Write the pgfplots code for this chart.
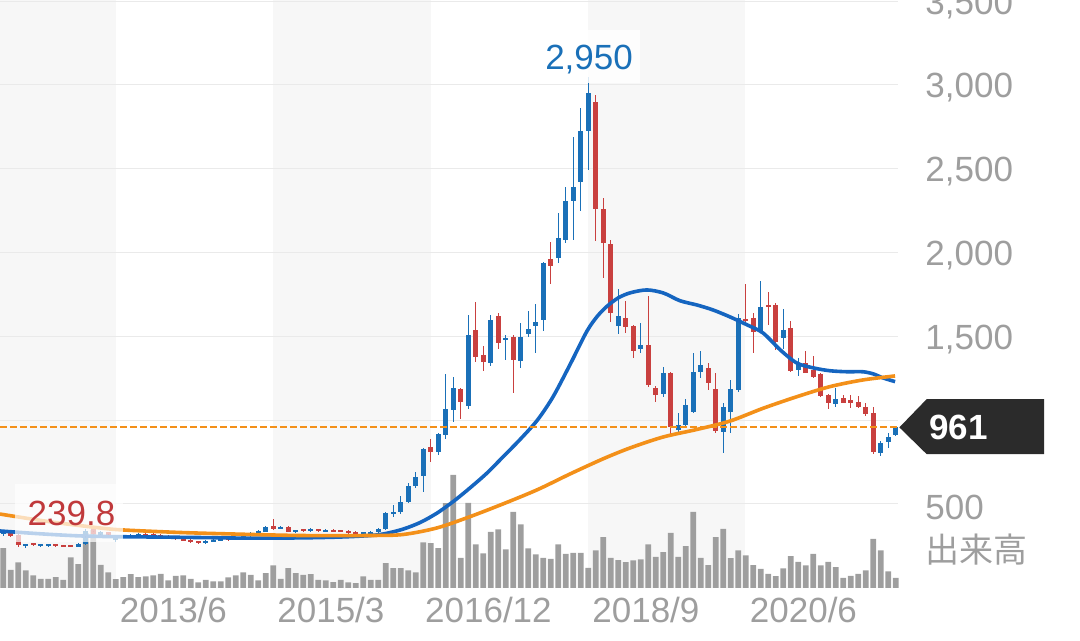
\documentclass[border=0pt]{standalone}
\usepackage{pgfplots}
\usepackage{pgfplotstable}
\pgfplotsset{compat=1.18}
\usepackage{fontspec}
\setmainfont{Liberation Sans}
\newfontfamily\cjk{Noto Sans CJK JP}
\definecolor{upc}{HTML}{1A70B8}
\definecolor{dnc}{HTML}{C9403F}
\definecolor{mab}{HTML}{1565C0}
\definecolor{mao}{HTML}{F39019}
\definecolor{volc}{HTML}{9E9E9E}
\definecolor{lblc}{HTML}{9E9E9E}
\definecolor{bandc}{HTML}{F7F7F7}
\definecolor{gridc}{HTML}{EAEAEA}
\definecolor{boxc}{HTML}{2B2B2B}
\definecolor{lowc}{HTML}{C0393B}

% monthly candles: index, open, high, low, close, volume
\pgfplotstableread{
i o h l c v
0 320 345 312 335 39.7
1 335 340 305 310 18
2 315 322 245 255 25.3
3 248 262 239.8 258 17.3
4 262 265 250 255 12.3
5 250 262 245 255 9
6 252 263 246 256 9
7 256 260 244 250 10.7
8 253 258 243 248 8
9 250 255 241 245 30.3
10 245 265 242 262 23.7
11 262 350 258 340 54.7
12 350 362 310 320 58
13 305 340 300 330 23
14 330 335 295 300 15.3
15 285 300 275 295 8.7
16 298 316 296 312 10.7
17 305 318 300 312 13.7
18 308 328 303 322 10.7
19 322 328 308 312 11.3
20 318 325 305 310 12.3
21 312 318 300 305 14
22 308 315 293 298 7.3
23 300 306 285 290 12
24 292 298 278 282 12.3
25 285 290 268 272 9
26 276 282 262 270 5.3
27 268 286 264 280 8
28 278 290 274 285 6.3
29 282 292 278 288 6.3
30 290 296 282 287 10.3
31 288 300 284 295 12.3
32 295 316 292 312 15.3
33 310 330 306 325 13
34 322 342 318 338 7.3
35 335 368 330 363 14.7
36 370 410 345 348 22.3
37 355 368 350 362 9
38 362 368 330 335 19.7
39 333 346 328 340 14.7
40 345 352 335 342 13
41 340 355 335 345 13.7
42 345 352 335 340 8
43 340 350 336 343 7.3
44 343 348 334 340 5.7
45 341 346 333 338 8
46 340 345 320 325 5.3
47 330 336 318 322 4.7
48 322 335 318 328 11.3
49 326 338 322 332 8
50 330 356 326 352 8
51 350 450 345 447 24.7
52 445 493 420 452 19.7
53 450 545 440 512 19.7
54 512 628 505 605 17.3
55 605 690 598 663 15.3
56 665 835 573 830 45.3
57 840 886 750 808 44.7
58 808 925 790 915 39.7
59 912 1276 890 1065 84.7
60 1060 1260 990 1190 113
61 1185 1192 1010 1110 30
62 1085 1628 1065 1508 85
63 1538 1703 1350 1375 43.3
64 1390 1440 1295 1350 34.3
65 1340 1628 1325 1598 56
66 1620 1640 1423 1460 58.3
67 1480 1508 1360 1492 38.3
68 1495 1510 1165 1360 76
69 1355 1578 1310 1495 63.3
70 1515 1652 1495 1542 39.3
71 1562 1692 1400 1588 33.3
72 1598 1945 1532 1940 30
73 1962 2065 1813 1922 29
74 1970 2238 1940 2089 43.3
75 2075 2393 2059 2308 34
76 2308 2688 2075 2392 35
77 2423 2865 2250 2726 35
78 2728 3050 2493 2950 20
79 2897 2940 2070 2258 37.3
80 2258 2324 1847 2056 50.7
81 2051 2075 1588 1638 30
82 1562 1781 1514 1620 27.7
83 1612 1713 1518 1558 25.7
84 1562 1570 1369 1413 27.3
85 1423 1582 1399 1449 28.3
86 1449 1738 1200 1210 43.3
87 1190 1205 1110 1150 31
88 1156 1316 1140 1280 35.7
89 1284 1290 898 958 55
90 942 1045 932 971 31
91 971 1125 958 1091 41.7
92 1051 1399 1040 1290 76
93 1290 1413 1250 1329 30
94 1310 1340 1180 1224 22.7
95 1184 1284 925 937 50.7
96 932 1104 802 1081 59
97 1051 1240 922 1184 29.7
98 1180 1634 1170 1610 37.3
99 1600 1813 1568 1592 32.3
100 1612 1638 1403 1528 22.7
101 1528 1831 1518 1674 19
102 1685 1767 1568 1678 14
103 1690 1700 1419 1469 11.7
104 1489 1665 1423 1541 19.3
105 1548 1594 1290 1296 31.7
106 1300 1369 1264 1340 26
107 1340 1415 1280 1284 22.3
108 1300 1383 1250 1260 34
109 1276 1282 1140 1145 22.3
110 1150 1155 1065 1101 26
111 1097 1190 1081 1125 20.7
112 1131 1150 1100 1105 10
113 1115 1150 1071 1108 12
114 1111 1145 1075 1081 14
115 1077 1101 1025 1037 17.3
116 1045 1081 798 812 49
117 802 878 786 862 37.3
118 872 922 832 902 16.3
119 912 965 905 961 10
}\candles

\pgfplotstableread{
x y
-0.44 339
5 322
10 310
15 305
20 303
26 300
33 296
40 298
45 303
49 312
51 324
53.3 350
55.6 390
57.8 445
60.0 515
62.2 595
64.5 685
66.6 780
68.9 885
71.2 1000
73.3 1140
75.6 1335
77.8 1530
79.2 1620
80.5 1680
82.0 1730
83.6 1760
85.8 1777
88.0 1759
90.2 1713
92.5 1687
94.6 1658
96.9 1616
99.2 1568
101.3 1520
103.6 1419
105.8 1341
108.0 1312
110.2 1295
112.5 1289
114.6 1289
116.0 1276
117.3 1252
118.9 1230
}\mablue

\pgfplotstableread{
x y
-0.44 440
6.2 394
12.9 357
16.0 345
23.6 330
30.6 321
39.6 312
48.9 312
53.3 318
57.8 357
62.2 424
66.6 500
71.2 585
75.6 680
80.0 770
83.6 835
88.0 900
92.5 945
96.9 995
101.3 1071
105.8 1140
110.2 1200
114.6 1240
118.9 1264
}\maorange

\pgfplotsset{
  candle/.style args={#1/#2}{forget plot, only marks, mark=*, mark size=0pt,
    mark options={draw=none, fill=none},
    error bars/.cd, y dir=both, y explicit, error mark=none,
    error bar style={draw=#1, line width=#2}},
}

\begin{document}
\begin{tikzpicture}
\begin{axis}[
  set layers,
  at={(0pt,26.6pt)}, anchor=south west,
  scale only axis, width=449pt, height=293.9pt,
  xmin=-0.44, xmax=119.29, ymin=0, ymax=3507,
  clip=false,
  axis line style={draw=none},
  major tick style={draw=none}, minor tick style={draw=none},
  ytick={500,1000,...,3500},
  yticklabels={500,{},{1,500},{2,000},{2,500},{3,000},{3,500}},
  yticklabel pos=right,
  yticklabel style={anchor=west, inner sep=0pt, xshift=13.5pt, yshift=-1.5pt,
    font=\fontsize{17.5pt}{18pt}\selectfont, text=lblc},
  ymajorgrids, grid style={gridc, line width=0.5pt},
  xtick={23,44,65,86,107},
  xticklabels={2013/6,2015/3,2016/12,2018/9,2020/6},
  xticklabel style={anchor=center, inner sep=0pt, yshift=-11pt, xshift=-1.2pt,
    font=\fontsize{17.5pt}{18pt}\selectfont, text=lblc},
]
\begin{pgfonlayer}{axis background}
\fill[bandc] (axis cs:-0.44,0) rectangle (axis cs:15,3507);
\fill[bandc] (axis cs:36,0) rectangle (axis cs:57,3507);
\fill[bandc] (axis cs:78,0) rectangle (axis cs:98.9,3507);
\end{pgfonlayer}

% volume
\addplot[ybar, bar width=2.85pt, fill=volc, draw=none, forget plot]
  table[x=i, y expr=\thisrow{v}*5.967] {\candles};

% wicks
\addplot[candle={upc/0.65pt}]
  table[x=i, y expr={\thisrow{c}>=\thisrow{o} ? (\thisrow{h}+\thisrow{l})/2 : nan},
        y error expr={(\thisrow{h}-\thisrow{l})/2}] {\candles};
\addplot[candle={dnc/0.65pt}]
  table[x=i, y expr={\thisrow{c}<\thisrow{o} ? (\thisrow{h}+\thisrow{l})/2 : nan},
        y error expr={(\thisrow{h}-\thisrow{l})/2}] {\candles};
% bodies
\addplot[candle={upc/2.5pt}]
  table[x=i, y expr={\thisrow{c}>=\thisrow{o} ? (\thisrow{o}+\thisrow{c})/2 : nan},
        y error expr={max(abs(\thisrow{c}-\thisrow{o})/2,6)}] {\candles};
\addplot[candle={dnc/2.5pt}]
  table[x=i, y expr={\thisrow{c}<\thisrow{o} ? (\thisrow{o}+\thisrow{c})/2 : nan},
        y error expr={max(abs(\thisrow{c}-\thisrow{o})/2,6)}] {\candles};

% moving averages
\addplot[mab, line width=1.8pt, smooth, tension=0.5, forget plot] table[x=x, y=y] {\mablue};
\addplot[mao, line width=1.8pt, smooth, tension=0.5, forget plot] table[x=x, y=y] {\maorange};

% last price line
\addplot[mao, line width=1pt, dash pattern=on 3.3pt off 1.7pt, forget plot]
  coordinates {(-0.44,961) (119.29,961)};

% low label
\fill[white, fill opacity=0.7] (axis cs:1.56,273) rectangle (axis cs:15.96,619);
\node[text=lowc, inner sep=0pt, font=\fontsize{17.5pt}{18pt}\selectfont] at (axis cs:9.09,443) {239.8};
% high label
\fill[white, fill opacity=0.85] (axis cs:70.9,3012) rectangle (axis cs:84.9,3328);
\node[text=upc, inner sep=0pt, font=\fontsize{17.5pt}{18pt}\selectfont] at (axis cs:78.1,3150) {2,950};

% current price tag
\fill[boxc] (axis cs:119.47,957) -- (axis cs:123.1,1125) -- (axis cs:138.76,1125)
  -- (axis cs:138.76,798) -- (axis cs:123.1,798) -- cycle;
\node[anchor=west, text=white, inner sep=0pt, font=\bfseries\fontsize{17.5pt}{18pt}\selectfont]
  at (axis cs:123.4,955) {961};

% volume caption
\node[anchor=west, text=lblc, inner sep=0pt, font=\cjk\fontsize{17pt}{18pt}\selectfont]
  at (axis cs:122.9,231) {出来高};
\end{axis}
\pgfresetboundingbox
\path[use as bounding box] (0,0) rectangle (540pt,320.5pt);
\end{tikzpicture}
\end{document}
